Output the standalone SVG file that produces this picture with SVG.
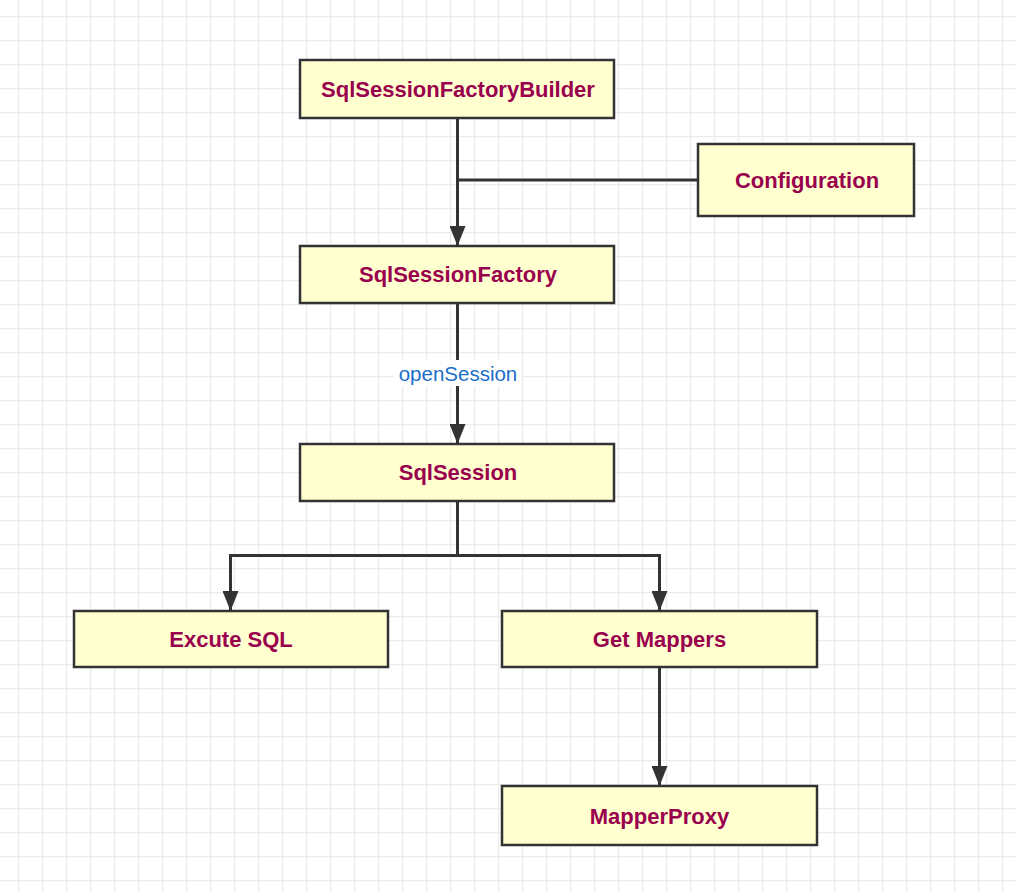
<svg xmlns="http://www.w3.org/2000/svg" width="1016" height="892" viewBox="0 0 1016 892">
<defs>
<pattern id="grid" x="18" y="16" width="24" height="24" patternUnits="userSpaceOnUse">
<path d="M0.5 0 V24 M0 0.5 H24" stroke="#ebebeb" stroke-width="1.5" fill="none"/>
</pattern>
<marker id="ah" viewBox="0 0 20 16" markerWidth="20" markerHeight="16" refX="20" refY="8" orient="auto" markerUnits="userSpaceOnUse">
<path d="M0 0 L20 8 L0 16 Z" fill="#333"/>
</marker>
<style>
.box{fill:#ffffd0;stroke:#333;stroke-width:2.5}
.lbl{font-family:"Liberation Sans",Arial,sans-serif;font-weight:bold;font-size:22px;fill:#99004d;text-anchor:middle;dominant-baseline:central}
.c{stroke:#333;stroke-width:3;fill:none}
.el{font-family:"Liberation Sans",Arial,sans-serif;font-size:20.5px;fill:#1a6fc9;text-anchor:middle;dominant-baseline:central}
</style>
</defs>
<rect width="1016" height="892" fill="#fff"/>
<rect width="1016" height="892" fill="url(#grid)"/>
<g id="connectors">
<path class="c" d="M457.5 118 V246" marker-end="url(#ah)"/>
<path class="c" d="M697 180 H457.5"/>
<path class="c" d="M457.5 303 V444" marker-end="url(#ah)"/>
<rect x="394" y="360" width="128" height="26" fill="#fff"/>
<text class="el" x="458" y="373">openSession</text>
<path class="c" d="M457.5 501 V555.5 H230.5 V611" marker-end="url(#ah)"/>
<path class="c" d="M457.5 555.5 H659.5 V611" marker-end="url(#ah)"/>
<path class="c" d="M659.5 667 V786" marker-end="url(#ah)"/>
</g>
<g id="builder"><rect class="box" x="300" y="60" width="314" height="58"/><text class="lbl" x="458" y="89">SqlSessionFactoryBuilder</text></g>
<g id="configuration"><rect class="box" x="698" y="144" width="216" height="72"/><text class="lbl" x="807" y="180">Configuration</text></g>
<g id="factory"><rect class="box" x="300" y="246" width="314" height="57"/><text class="lbl" x="458" y="274.5">SqlSessionFactory</text></g>
<g id="session"><rect class="box" x="300" y="444" width="314" height="57"/><text class="lbl" x="458" y="472.5">SqlSession</text></g>
<g id="excute"><rect class="box" x="74" y="611" width="314" height="56"/><text class="lbl" x="231" y="639.5">Excute SQL</text></g>
<g id="mappers"><rect class="box" x="502" y="611" width="315" height="56"/><text class="lbl" x="659.5" y="639.5">Get Mappers</text></g>
<g id="proxy"><rect class="box" x="502" y="786" width="315" height="59"/><text class="lbl" x="659.5" y="816">MapperProxy</text></g>
</svg>
